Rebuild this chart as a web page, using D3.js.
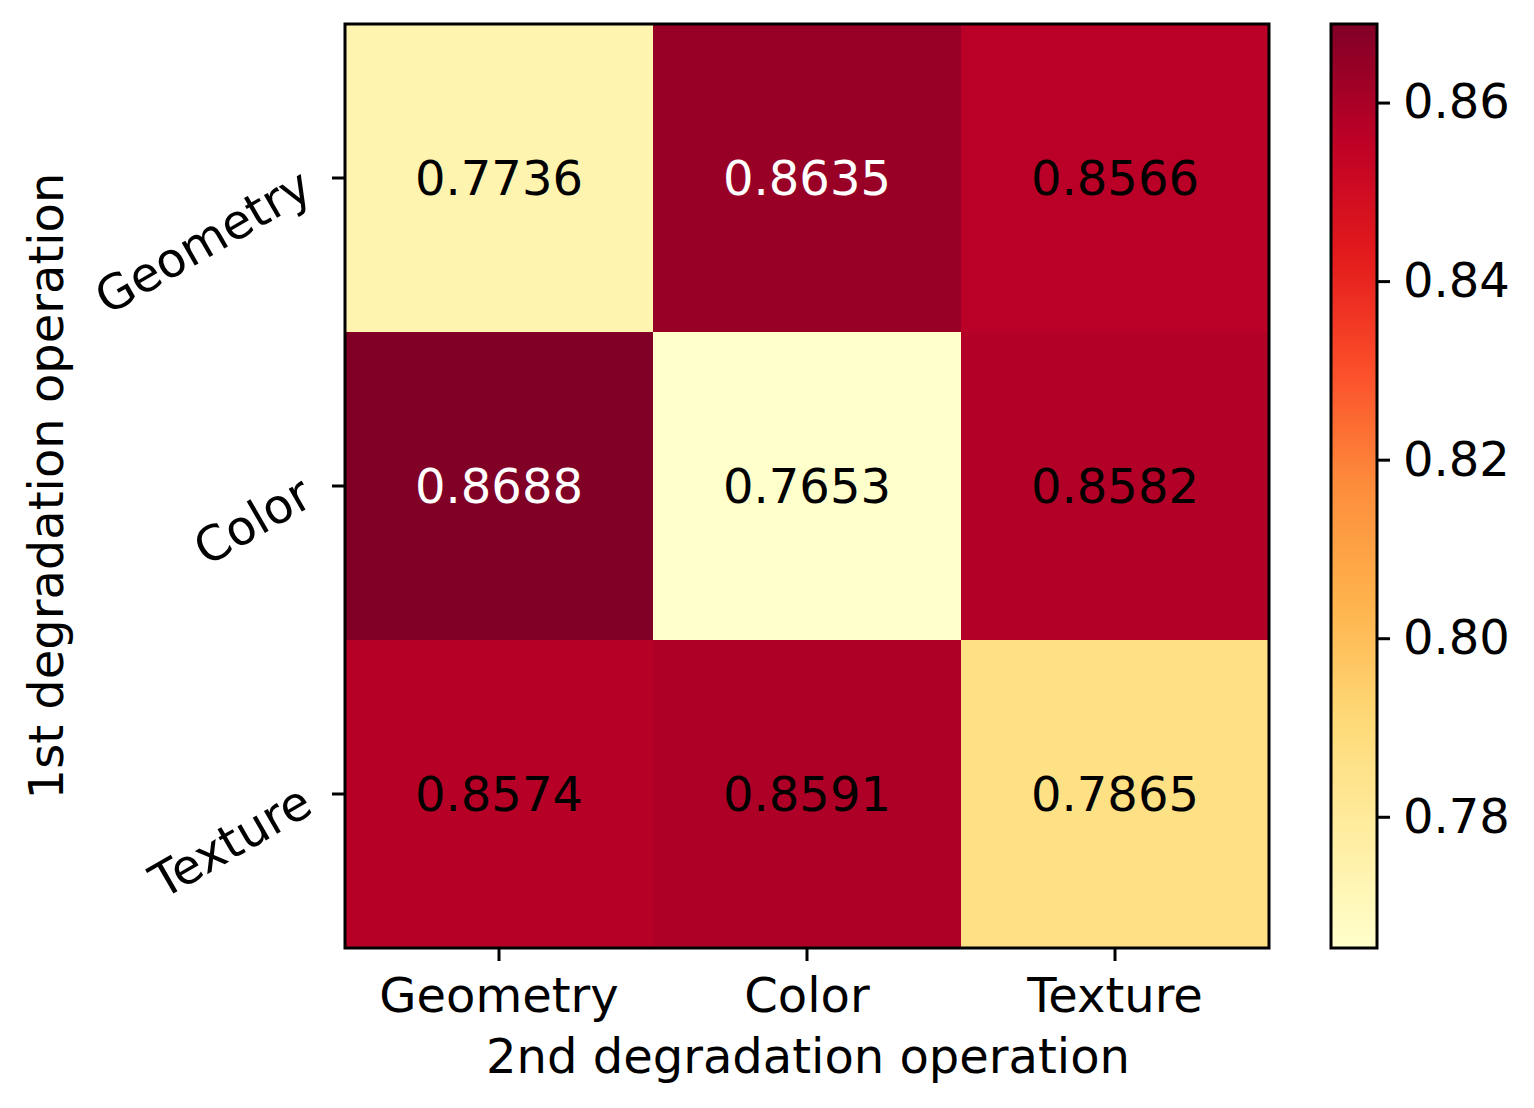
<!DOCTYPE html>
<html>
<head>
<meta charset="utf-8">
<script src="https://cdn.jsdelivr.net/npm/d3@7"></script>
<style>
  body { margin: 0; background: #fff; }
  text { font-family: "DejaVu Sans", sans-serif; fill: #000; }
</style>
</head>
<body>
<div id="chart"></div>
<script>
(function() {

// data
var rowLabels = ["Geometry", "Color", "Texture"];
var colLabels = ["Geometry", "Color", "Texture"];
var values = [
  [0.7736, 0.8635, 0.8566],
  [0.8688, 0.7653, 0.8582],
  [0.8574, 0.8591, 0.7865]
];
var cbarTicks = [0.78, 0.80, 0.82, 0.84, 0.86];
var ylorrd = ["#ffffcc","#ffeda0","#fed976","#feb24c","#fd8d3c","#fc4e2a","#e31a1c","#bd0026","#800026"];

var W = 1534, H = 1108;
var plot = {left: 345, top: 24, width: 924, height: 924};
var cbar = {left: 1331, top: 24, width: 46, height: 924};

var flat = [];
values.forEach(function(row, i) {
  row.forEach(function(v, j) { flat.push({r: rowLabels[i], c: colLabels[j], v: v}); });
});
var vmin = d3.min(flat, function(d) { return d.v; }),
    vmax = d3.max(flat, function(d) { return d.v; });

// matplotlib-like YlOrRd: linear segments between the 9 brewer colours
var color = d3.scaleLinear()
    .domain(ylorrd.map(function(c, i) { return vmin + (vmax - vmin) * i / (ylorrd.length - 1); }))
    .range(ylorrd)
    .interpolate(d3.interpolateRgb)
    .clamp(true);

var x = d3.scaleBand().domain(colLabels).range([plot.left, plot.left + plot.width]);
var y = d3.scaleBand().domain(rowLabels).range([plot.top, plot.top + plot.height]);

var svg = d3.select("#chart").append("svg")
    .attr("width", W)
    .attr("height", H);

svg.selectAll(".cell")
    .data(flat)
  .enter().append("rect")
    .attr("class", "cell")
    .attr("x", function(d) { return x(d.c); })
    .attr("y", function(d) { return y(d.r); })
    .attr("width", x.bandwidth() + 0.5)
    .attr("height", y.bandwidth() + 0.5)
    .style("fill", function(d) { return color(d.v); });

svg.selectAll(".ann")
    .data(flat)
  .enter().append("text")
    .attr("class", "ann")
    .attr("x", function(d) { return x(d.c) + x.bandwidth() / 2; })
    .attr("y", function(d) { return y(d.r) + y.bandwidth() / 2; })
    .attr("dy", "0.36em")
    .attr("text-anchor", "middle")
    .style("font-size", "48px")
    .style("fill", function(d) { return d.v > 0.86 ? "#fff" : "#000"; })
    .text(function(d) { return d.v.toFixed(4); });

svg.append("rect")
    .attr("x", plot.left).attr("y", plot.top)
    .attr("width", plot.width).attr("height", plot.height)
    .style("fill", "none").style("stroke", "#000").style("stroke-width", 3);

// x axis
var xAxis = svg.append("g")
    .attr("transform", "translate(0," + (plot.top + plot.height) + ")")
    .call(d3.axisBottom(x).tickSize(13).tickPadding(10));
xAxis.select(".domain").remove();
xAxis.selectAll(".tick line").attr("stroke-width", 3);
xAxis.selectAll(".tick text")
    .attr("y", 0).attr("dy", 0)
    .attr("transform", "translate(0,64)")
    .style("font-size", "48px")
    .style("font-family", "DejaVu Sans");

// y axis, labels rotated 30 degrees
var yAxis = svg.append("g")
    .attr("transform", "translate(" + plot.left + ",0)")
    .call(d3.axisLeft(y).tickSize(13));
yAxis.select(".domain").remove();
yAxis.selectAll(".tick line").attr("stroke-width", 3);
yAxis.selectAll(".tick text")
    .attr("x", null).attr("dy", null)
    .attr("text-anchor", "end")
    .attr("transform", "translate(-30,18) rotate(-30)")
    .style("font-size", "48px")
    .style("font-family", "DejaVu Sans");

svg.append("text")
    .attr("x", plot.left + plot.width / 2 + 1)
    .attr("y", 1073)
    .attr("text-anchor", "middle")
    .style("font-size", "48px")
    .text("2nd degradation operation");

svg.append("text")
    .attr("transform", "translate(63," + (plot.top + plot.height / 2) + ") rotate(-90)")
    .attr("text-anchor", "middle")
    .style("font-size", "48px")
    .text("1st degradation operation");

// colorbar
var defs = svg.append("defs");
var grad = defs.append("linearGradient")
    .attr("id", "cbarGrad")
    .attr("x1", 0).attr("y1", 1).attr("x2", 0).attr("y2", 0);
d3.range(0, 1.0001, 0.02).forEach(function(t) {
  grad.append("stop")
      .attr("offset", t)
      .attr("stop-color", color(vmin + t * (vmax - vmin)));
});

var cy = d3.scaleLinear().domain([vmin, vmax]).range([cbar.top + cbar.height, cbar.top]);

svg.append("rect")
    .attr("x", cbar.left).attr("y", cbar.top)
    .attr("width", cbar.width).attr("height", cbar.height)
    .style("fill", "url(#cbarGrad)")
    .style("stroke", "#000").style("stroke-width", 3);

var cAxis = svg.append("g")
    .attr("transform", "translate(" + (cbar.left + cbar.width) + ",0)")
    .call(d3.axisRight(cy).tickValues(cbarTicks).tickFormat(d3.format(".2f")).tickSize(13).tickPadding(13));
cAxis.select(".domain").remove();
cAxis.selectAll(".tick line").attr("stroke-width", 3);
cAxis.selectAll(".tick text")
    .style("font-size", "48px")
    .style("font-family", "DejaVu Sans");

})();
</script>
</body>
</html>
